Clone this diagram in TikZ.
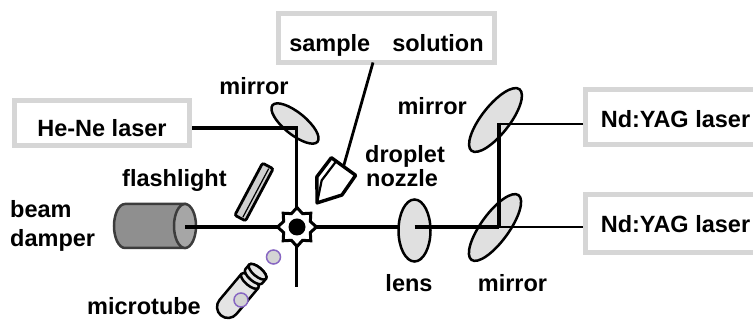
\documentclass[tikz,border=0pt]{standalone}
\usepackage{fontspec}
\setmainfont{Liberation Sans}
\usetikzlibrary{shapes.geometric}
\definecolor{boxgray}{HTML}{D6D6D6}
\definecolor{opticfill}{HTML}{E0E0E0}
\definecolor{damperbody}{HTML}{8F8F8F}
\definecolor{damperface}{HTML}{A6A6A6}
\definecolor{damperline}{HTML}{3C3C3C}
\definecolor{dropline}{HTML}{8766C2}
\definecolor{dropfill}{HTML}{D4D4D4}
\definecolor{slab}{HTML}{CFCFCF}
\definecolor{tubefill}{HTML}{E4E4E4}
\begin{document}
\begin{tikzpicture}[x=1pt,y=1pt,
  lbl/.style={font=\fontsize{23.5}{26}\selectfont\bfseries, inner sep=0pt},
  devbox/.style={lbl, draw=boxgray, line width=5pt, fill=white, text depth=0pt},
  opticel/.style={ellipse, draw, line width=2.5pt, fill=opticfill, inner sep=0pt},
  beam/.style={line width=3.3pt},
  thinbeam/.style={line width=2.6pt},
  thickbeam/.style={line width=4.2pt},
  droplet/.style={draw=dropline, line width=1.5pt, fill=dropfill},
  tube/.style={draw, line width=2.5pt, fill=tubefill}]
\useasboundingbox (0,0) rectangle (753,320);
\clip (0,0) rectangle (753,320);

% light sources and sample reservoir
\node[devbox, minimum width=175pt, minimum height=45pt, text height=27.4pt] (heNe) at (102,197) {He-Ne laser};
\node[devbox, minimum width=216pt, minimum height=49pt, text height=27.4pt] (sample) at (386.5,282) {sample\hspace{22pt}solution};
\node[devbox, minimum width=180pt, minimum height=55pt, text height=20.6pt] (nd1) at (675.5,203) {Nd:YAG laser};
\node[devbox, minimum width=180pt, minimum height=58pt, text height=18.4pt] (nd2) at (675.5,96.5) {Nd:YAG laser};

% beam path points
\coordinate (m1hit) at (296.5,192);
\coordinate (hbot) at (296.5,33);
\coordinate (dface) at (185,93);
\coordinate (lenshit) at (414.5,93);
\coordinate (m3hit) at (499,93);
\coordinate (m2hit) at (499,196);
\coordinate (feed) at (373,257.5);
\coordinate (nzback) at (343.5,153.5);

% beam damper
\draw[line width=2.5pt, draw=damperline, fill=damperbody]
  (185,116) -- (125,116) arc[start angle=90, end angle=270, x radius=11, y radius=22] -- (185,72) -- cycle;
\draw[line width=2.5pt, draw=damperline, fill=damperface] (185,94) ellipse [x radius=11, y radius=22];

% sample feed to the nozzle
\draw[line width=2.8pt] (feed) -- (nzback);

% mirrors
\node[opticel, minimum width=58pt, minimum height=22pt, rotate=-39] (m1) at (295,196.5) {};
\node[opticel, minimum width=78pt, minimum height=28pt, rotate=52] (m2) at (495.5,200) {};
\node[opticel, minimum width=80pt, minimum height=28pt, rotate=54] (m3) at (495,92.5) {};

% He-Ne probe beam
\draw[beam] (heNe.east |- m1hit) -- (m1hit) -- (hbot);

% main beam, damper side
\draw[beam] (dface) -- (lenshit);
\node[opticel, minimum width=32pt, minimum height=62pt] (lens) at (414.5,89.5) {};
\draw[line width=3.6pt] (lenshit) -- (m3hit);
\draw[thinbeam] (m3hit) -- (nd2.west |- m3hit);

% Nd:YAG beam folded by the two mirrors
\draw[thinbeam] (nd1.west |- m2hit) -- (m2hit);
\draw[thickbeam] ([yshift=1.3pt]m2hit) -- (m3hit);

% flashlight
\begin{scope}[shift={(254,128)}, rotate=62]
  \draw[line width=2.8pt, fill=slab, rounded corners=2pt] (-29.5,-6) rectangle (29.5,6);
  \draw[line width=1.2pt] (-27.5,-2) -- (27.5,-2);
\end{scope}

% droplet nozzle
\begin{scope}[shift={(nzback)}, rotate=234]
  \draw[line width=3.4pt, fill=white, line join=round] (0,15) -- (0,-15) -- (24,-15.5) -- (45,0) -- (24,15.5) -- cycle;
  \draw[line width=2.2pt] (0,-9) -- (24,-9.5) -- (45,0);
\end{scope}

% microtube with lid
\begin{scope}[shift={(228,13)}, rotate=50]
  \draw[tube] (34,11) -- (0,11) arc[start angle=90, end angle=270, radius=11] -- (34,-11);
  \draw[tube] (34,0) ellipse [x radius=4.5, y radius=11];
  \draw[tube] (40,11) -- (46,11) arc[start angle=90, end angle=-90, x radius=4.5, y radius=11]
     -- (40,-11) arc[start angle=270, end angle=90, x radius=4.5, y radius=11] -- cycle;
  \draw[tube] (46,0) ellipse [x radius=4.5, y radius=11];
\end{scope}
\draw[droplet] (241,20) circle (7);
\draw[droplet] (273.5,63) circle (7);

% levitated droplet at the crossing point
\node[star, star points=8, star point ratio=1.35, minimum size=39pt, inner sep=0pt,
      draw, line width=3pt, fill=white] (drop) at (297,93) {};
\fill (drop.center) circle (8.5);

% labels
\node[lbl, anchor=base] (tM1) at (254,225) {mirror};
\node[lbl, anchor=base east] (tM2) at (467,205) {mirror};
\node[lbl, anchor=base west] (tDrop) at (365,157) {droplet};
\node[lbl, anchor=base west] (tNoz) at (366,133) {nozzle};
\node[lbl, anchor=base west] (tFlash) at (122,133) {flashlight};
\node[lbl, anchor=base west] (tBeam) at (10,102) {beam};
\node[lbl, anchor=base west] (tDamp) at (10,73.3) {damper};
\node[lbl, anchor=base west] (tTube) at (87,5) {microtube};
\node[lbl, anchor=base] (tLens) at (409,28) {lens};
\node[lbl, anchor=base] (tM3) at (512.5,28) {mirror};
\end{tikzpicture}
\end{document}
